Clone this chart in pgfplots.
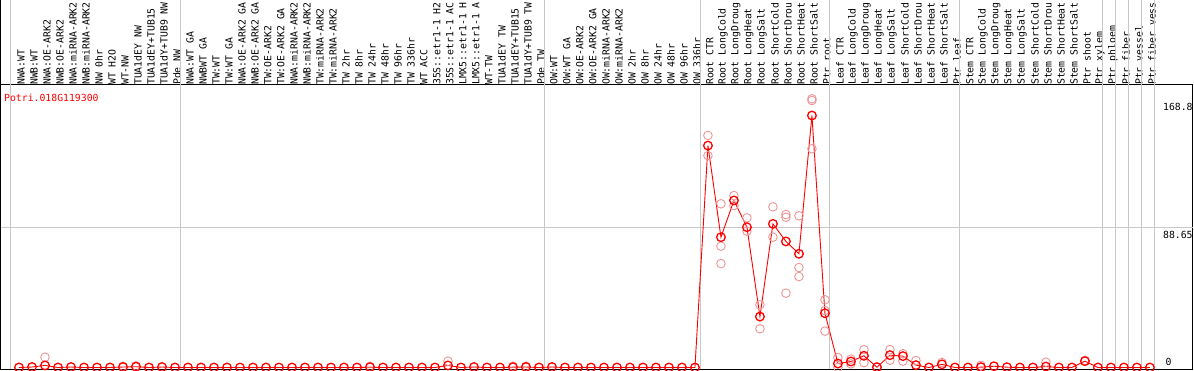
\documentclass[border=0pt]{standalone}
\usepackage{fontspec}
\usepackage{pgfplots}
\pgfplotsset{compat=1.18}
\newfontfamily\monofnt{DejaVu Sans Mono}
\newcommand\lab{\monofnt\fontsize{9.8}{10}\selectfont}
\definecolor{repink}{RGB}{238,150,150}
\definecolor{sepgray}{RGB}{200,200,200}
\begin{document}
\begin{tikzpicture}
\begin{scope}
\clip (0,0) rectangle (1194pt,370pt);
\begin{axis}[
  at={(1pt,1pt)}, anchor=south west,
  scale only axis, width=1192pt, height=284pt,
  xmin=-1.3846, xmax=90.31, ymin=-0.95, ymax=178.6,
  clip=false,
  axis line style={black, line width=1pt},
  xtick={0.15,1.15,...,87.15},
  xticklabels={NWA:WT,NWB:WT,NWA:OE-ARK2,NWB:OE-ARK2,NWA:miRNA-ARK2,NWB:miRNA-ARK2,NW 0hr,WT H2O,WT-NW,TUA1dEY NW,TUA1dEY+TUB15,TUA1dY+TUB9 NW,Pde NW,
  NWA:WT GA,NWBWT GA,TW:WT,TW:WT GA,NWA:OE-ARK2 GA,NWB:OE-ARK2 GA,TW:OE-ARK2,TW:OE-ARK2 GA,NWA:miRNA-ARK2,NWB:miRNA-ARK2,TW:miRNA-ARK2,TW:miRNA-ARK2,TW 2hr,TW 8hr,TW 24hr,TW 48hr,TW 96hr,TW 336hr,WT ACC,35S::etr1-1 H2,35S::etr1-1 AC,LMX5::etr1-1 H,LMX5::etr1-1 A,WT-TW,TUA1dEY TW,TUA1dEY+TUB15,TUA1dY+TUB9 TW,Pde TW,
  OW:WT,OW:WT GA,OW:OE-ARK2,OW:OE-ARK2 GA,OW:miRNA-ARK2,OW:miRNA-ARK2,OW 2hr,OW 8hr,OW 24hr,OW 48hr,OW 96hr,OW 336hr,
  Root CTR,Root LongCold,Root LongDroug,Root LongHeat,Root LongSalt,Root ShortCold,Root ShortDrou,Root ShortHeat,Root ShortSalt,Ptr root,
  Leaf CTR,Leaf LongCold,Leaf LongDroug,Leaf LongHeat,Leaf LongSalt,Leaf ShortCold,Leaf ShortDrou,Leaf ShortHeat,Leaf ShortSalt,Ptr leaf,
  Stem CTR,Stem LongCold,Stem LongDroug,Stem LongHeat,Stem LongSalt,Stem ShortCold,Stem ShortDrou,Stem ShortHeat,Stem ShortSalt,Ptr shoot,Ptr xylem,
  Ptr phloem,Ptr fiber,Ptr vessel,Ptr fiber vess},
  xticklabel pos=upper,
  xticklabel style={rotate=90, anchor=west, font=\lab, inner sep=0pt},
  major tick length=0pt,
  tick style={draw=none},
  ytick=\empty,
]
% separators
\pgfplotsinvokeforeach{-0.692,12.385,40.385,52.385,62.385,72.385,83.385,84.385,85.385,86.385,87.385}{
  \draw[sepgray, line width=0.9pt] (axis cs:#1,-0.95) -- (axis cs:#1,250);
}
\draw[sepgray, line width=0.9pt] (axis cs:-1.3846,88.65) -- (axis cs:90.31,88.65);
\draw[black, line width=1pt] (axis cs:-1.3846,178.6) -- (axis cs:-1.3846,250);
% replicates
\addplot[only marks, mark=o, mark size=4.3pt, mark options={repink, line width=0.9pt}] coordinates {
(2,6.5) (8,0.8) (9,1.0) (27,0.7) (33,4.0) (38,0.8) (39,0.8)
(53,146.7) (53,134.0)
(54,103.5) (54,76.7) (54,65.7)
(55,108.7) (55,102.4)
(56,94.6) (56,86.2)
(57,39.6) (57,24.5)
(58,101.6) (58,82.4)
(59,96.7) (59,95.0) (59,47.0)
(60,95.9) (60,63.2) (60,57.5)
(61,169.9) (61,168.8) (61,138.3)
(62,42.8) (62,36.0) (62,23.0)
(63,6.3) (63,0)
(64,5.3) (64,2.3)
(65,11.3) (65,3.0)
(66,0.3)
(67,11.3) (67,4.6)
(68,8.7) (68,4.0)
(69,4.4) (71,3.2) (74,1.3) (79,3.4) (82,4.5)
};
% means
\addplot[red, line width=0.9pt, mark=o, mark size=4.3pt, mark options={red, line width=1.3pt}] coordinates {
(0,0) (1,0.3) (2,1.3) (3,0) (4,0.3) (5,0) (6,0) (7,0) (8,0.3) (9,0.5) (10,0) (11,0.3) (12,0)
(13,0) (14,0) (15,0) (16,0) (17,0) (18,0) (19,0) (20,0) (21,0) (22,0) (23,0) (24,0) (25,0) (26,0)
(27,0.2) (28,0) (29,0) (30,0) (31,0) (32,0) (33,1.3) (34,0) (35,0.3) (36,0) (37,0) (38,0.2) (39,0.3) (40,0)
(41,0.3) (42,0) (43,0) (44,0) (45,0) (46,0) (47,0) (48,0) (49,0) (50,0) (51,0) (52,0)
(53,140.3) (54,82.4) (55,105.6) (56,88.7) (57,32.2) (58,90.8) (59,79.7) (60,71.9) (61,159.3) (62,34.3)
(63,2.5) (64,3.8) (65,7.4) (66,0.2) (67,7.8) (68,7.2) (69,1.5) (70,0) (71,2.0) (72,0)
(73,0) (74,0.2) (75,0.8) (76,0.2) (77,0) (78,0) (79,0.6) (80,0) (81,0) (82,4.0) (83,0)
(84,0) (85,0) (86,0) (87,0)
};
% value labels
\node[anchor=west, font=\lab, inner sep=0pt, yshift=-6.5pt] at (axis cs:88.0,168.8) {168.8};
\node[anchor=west, font=\lab, inner sep=0pt, yshift=-7.7pt] at (axis cs:88.0,88.65) {88.65};
\node[anchor=west, font=\lab, inner sep=0pt, yshift=5.5pt] at (axis cs:88.2,0) {0};
\end{axis}
\node[anchor=west, font=\lab, text=red, inner sep=0pt] at (4pt,272pt) {Potri.018G119300};
\end{scope}
\pgfresetboundingbox
\useasboundingbox (0,0) rectangle (1194pt,370pt);
\end{tikzpicture}
\end{document}
